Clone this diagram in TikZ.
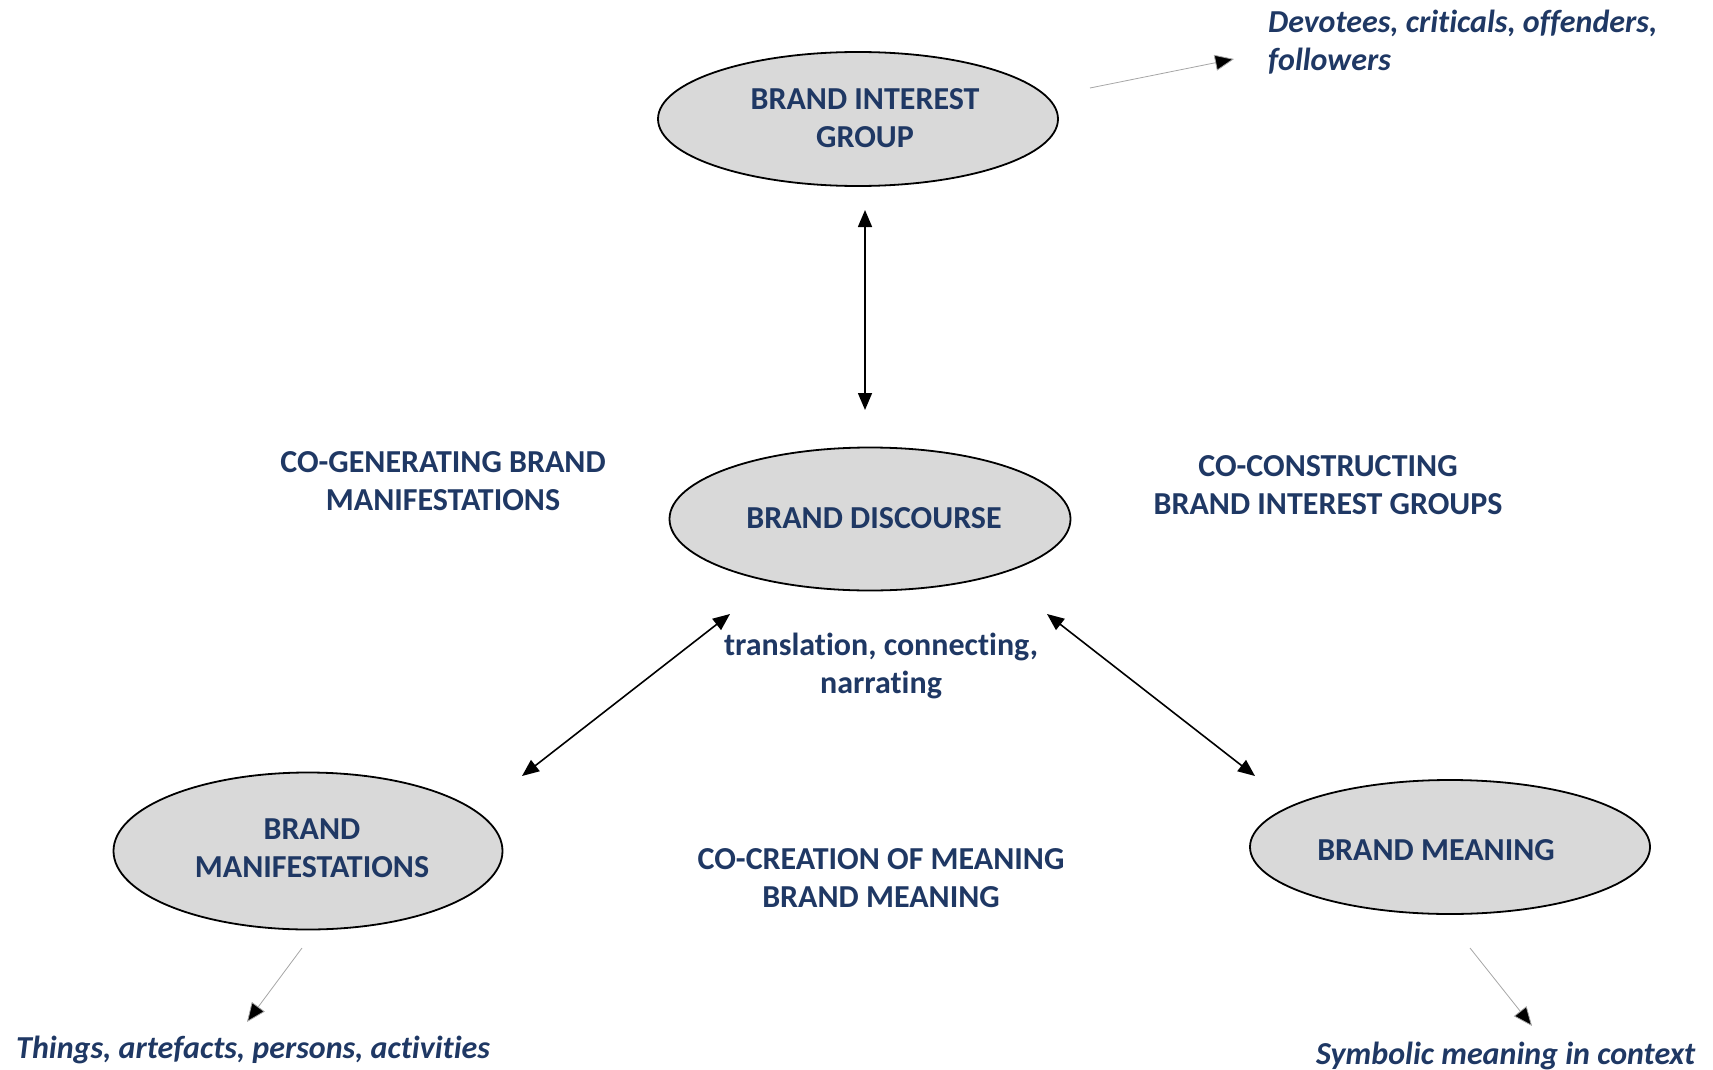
\documentclass[tikz,border=0pt]{standalone}
\usepackage{fontspec}
\setmainfont[Ligatures=NoCommon]{Carlito}
\usetikzlibrary{shapes.geometric,arrows.meta}
\definecolor{navy}{RGB}{31,56,100}
\definecolor{bubble}{RGB}{217,217,217}
\begin{document}
\begin{tikzpicture}[x=1pt,y=-1pt,
  txt/.style={text=navy,font=\fontsize{32}{38}\selectfont\bfseries,align=center,inner sep=0pt},
  note/.style={text=navy,font=\fontsize{32}{38}\selectfont\bfseries\itshape,inner sep=0pt},
  bubblenode/.style={ellipse,draw=black,line width=1.8pt,fill=bubble,inner sep=0pt},
  link/.style={line width=1.6pt,{Triangle[length=17pt,width=14pt]}-{Triangle[length=17pt,width=14pt]}},
  hint/.style={draw=gray!70,line width=0.8pt,-{Triangle[length=19pt,width=16pt,fill=black]}}]
\useasboundingbox (0,0) rectangle (1713,1070);

% ellipses
\node[bubblenode,minimum width=400pt,minimum height=134pt] (big) at (858,119) {};
\node[bubblenode,minimum width=401pt,minimum height=143pt] (disc) at (870,519) {};
\node[bubblenode,minimum width=389pt,minimum height=157pt] (man) at (308,851) {};
\node[bubblenode,minimum width=400pt,minimum height=134pt] (mean) at (1450,847) {};

% ellipse texts
\node[txt] (bigt) at (865,118) {BRAND INTEREST\\GROUP};
\node[txt] (disct) at (874,518) {BRAND DISCOURSE};
\node[txt] (mant) at (312,848) {BRAND\\MANIFESTATIONS};
\node[txt] (meant) at (1436,850) {BRAND MEANING};

% free texts
\node[txt] (cogen) at (443,481) {CO-GENERATING BRAND\\MANIFESTATIONS};
\node[txt] (cocon) at (1328,485) {CO-CONSTRUCTING\\BRAND INTEREST GROUPS};
\node[txt] (trans) at (881,666) {translation, connecting,\\narrating};
\node[txt] (cocre) at (881,878) {CO-CREATION OF MEANING\\BRAND MEANING};

% notes
\node[note,anchor=west,align=left] (devo) at (1268,42) {Devotees, criticals, offenders,\\followers};
\node[note,anchor=west] (things) at (16,1050) {Things, artefacts, persons, activities};
\node[note,anchor=west] (symb) at (1316,1056) {Symbolic meaning in context};

% connector end points
\coordinate (v1) at (865,210);
\coordinate (v2) at (865,410);
\coordinate (l1) at (730,614);
\coordinate (l2) at (522,776);
\coordinate (r1) at (1047,614);
\coordinate (r2) at (1255,776);
\coordinate (h1) at (1090,88);
\coordinate (h2) at (1234,59);
\coordinate (p1) at (302,948);
\coordinate (p2) at (247,1022);
\coordinate (q1) at (1470,948);
\coordinate (q2) at (1532,1026);

% connectors
\draw[link] (v1) -- (v2);
\draw[link] (l1) -- (l2);
\draw[link] (r1) -- (r2);
\draw[hint] (h1) -- (h2);
\draw[hint] (p1) -- (p2);
\draw[hint] (q1) -- (q2);
\end{tikzpicture}
\end{document}
